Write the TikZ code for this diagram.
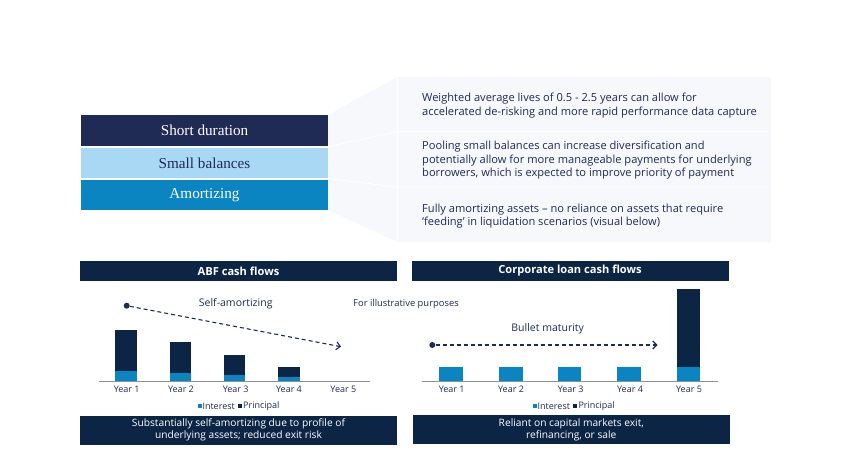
\documentclass[tikz,border=0pt]{standalone}
\usepackage{fontspec}
\setmainfont{Open Sans}
\newfontfamily\labelserif{Liberation Serif}
\usetikzlibrary{arrows.meta}
\definecolor{navy}{HTML}{0C2545}
\definecolor{inknavy}{HTML}{1F2A55}
\definecolor{skyblue}{HTML}{A9D8F5}
\definecolor{midblue}{HTML}{0B84C2}
\definecolor{panelgrey}{HTML}{F6F8FB}
\definecolor{axisgrey}{HTML}{8A8F98}
\tikzset{
  feature/.style={minimum width=247pt, inner sep=0pt, font=\labelserif\fontsize{15.2}{17}\selectfont},
  point/.style={anchor=west, align=left, inner sep=0pt, text=inknavy, font=\fontsize{11.1}{13.5}\selectfont},
  header/.style={fill=navy, text=white, minimum width=317pt, minimum height=20pt, inner sep=0pt, font=\bfseries\fontsize{11.1}{13}\selectfont},
  footer/.style={fill=navy, text=white, minimum width=317pt, minimum height=29pt, inner sep=0pt, align=center, font=\fontsize{10.2}{12.2}\selectfont},
  yearlbl/.style={anchor=north, inner sep=0pt, text=inknavy, font=\fontsize{9}{10}\selectfont},
  leglbl/.style={anchor=west, inner sep=0pt, text=inknavy, font=\fontsize{9}{10}\selectfont},
  note/.style={inner sep=0pt, text=inknavy, font=\fontsize{10.5}{12}\selectfont},
  startdot/.style={circle, fill=inknavy, inner sep=0pt, minimum size=6pt},
  trend/.style={inknavy, line width=1.1pt, dash pattern=on 4pt off 3pt, -{Straight Barb[length=4pt,width=8pt,line width=1.1pt]}},
}
\begin{document}
\begin{tikzpicture}[x=1pt,y=-1pt]
\useasboundingbox (0,0) rectangle (850,456);
% panel behind the three points
\fill[panelgrey] (328,115) -- (397,77) -- (771,77) -- (771,242) -- (397,242) -- (328,210) -- cycle;
\draw[white, thick] (328,146.7) -- (397,131.7) -- (771,131.7);
\draw[white, thick] (328,178.5) -- (397,187) -- (771,187);
\draw[white, thick] (397,77) -- (397,242);
% feature boxes
\node[feature, fill=inknavy, text=white, minimum height=30.5pt] (short) at (204.5,130.3) {Short duration};
\node[feature, fill=skyblue, text=inknavy, minimum height=30.5pt] (small) at (204.5,163) {Small balances};
\node[feature, fill=midblue, text=white, minimum height=30pt] (amort) at (204.5,195.3) {Amortizing};
\node[point] (pshort) at (422,105.5) {Weighted average lives of 0.5 - 2.5 years can allow for\\accelerated de-risking and more rapid performance data capture};
\node[point] (psmall) at (422,160.5) {Pooling small balances can increase diversification and\\potentially allow for more manageable payments for underlying\\borrowers, which is expected to improve priority of payment};
\node[point] (pamort) at (422,216) {Fully amortizing assets -- no reliance on assets that require\\`feeding' in liquidation scenarios (visual below)};

% ABF cash flows
\node[header] (abfhead) at (238.5,271) {ABF cash flows};
\fill[navy] (115,330.3) rectangle (137.3,381);
\fill[midblue] (115,370.7) rectangle (137.3,381);
\fill[navy] (170,342.3) rectangle (191,381);
\fill[midblue] (170,373) rectangle (191,381);
\fill[navy] (224.3,355) rectangle (245.3,381);
\fill[midblue] (224.3,375) rectangle (245.3,381);
\fill[navy] (278.3,367) rectangle (300,381);
\fill[midblue] (278.3,377) rectangle (300,381);
\draw[axisgrey, thick] (99,381) -- (370,381);
\node[yearlbl] (abfy1) at (126.7,386) {Year 1};
\node[yearlbl] (abfy2) at (181,386) {Year 2};
\node[yearlbl] (abfy3) at (235.7,386) {Year 3};
\node[yearlbl] (abfy4) at (289,386) {Year 4};
\node[yearlbl] (abfy5) at (343.3,386) {Year 5};
\node[startdot] (abfdot) at (126.7,305.7) {};
\coordinate (abfend) at (341,346.7);
\draw[trend] (abfdot) -- (abfend);
\node[note] (selfam) at (235.7,304) {Self-amortizing};
\fill[midblue] (197.7,404) rectangle (201.7,408);
\node[leglbl] (abfint) at (202.3,406) {Interest};
\fill[navy] (238.3,404) rectangle (242.3,408);
\node[leglbl] (abfprin) at (243,406) {Principal};
\node[footer] (abffoot) at (238.5,430) {Substantially self-amortizing due to profile of\\underlying assets; reduced exit risk};

\node[note, font=\fontsize{9.4}{11}\selectfont] (illus) at (406,304.5) {For illustrative purposes};

% Corporate loan cash flows
\node[header] (corphead) at (570,271) {Corporate loan cash flows};
\fill[midblue] (439.3,367) rectangle (463.3,381);
\fill[midblue] (499,367) rectangle (522.7,381);
\fill[midblue] (557.7,367) rectangle (581,381);
\fill[midblue] (617.3,367) rectangle (640.7,381);
\fill[navy] (676.7,289.3) rectangle (700.3,381);
\fill[midblue] (676.7,367) rectangle (700.3,381);
\draw[axisgrey, thick] (421.7,381) -- (718.3,381);
\node[yearlbl] (corpy1) at (451.7,386) {Year 1};
\node[yearlbl] (corpy2) at (511,386) {Year 2};
\node[yearlbl] (corpy3) at (570.7,386) {Year 3};
\node[yearlbl] (corpy4) at (630,386) {Year 4};
\node[yearlbl] (corpy5) at (689,386) {Year 5};
\node[startdot] (corpdot) at (432.3,345) {};
\coordinate (corpend) at (657.5,345);
\draw[trend] (corpdot) -- (corpend);
\node[note] (bullet) at (547.7,328.3) {Bullet maturity};
\fill[midblue] (532.7,404) rectangle (536.7,408);
\node[leglbl] (corpint) at (537.5,406) {Interest};
\fill[navy] (573.3,404) rectangle (577.3,408);
\node[leglbl] (corpprin) at (578.3,406) {Principal};
\node[footer] (corpfoot) at (571.3,429.8) {Reliant on capital markets exit,\\refinancing, or sale};
\end{tikzpicture}
\end{document}
